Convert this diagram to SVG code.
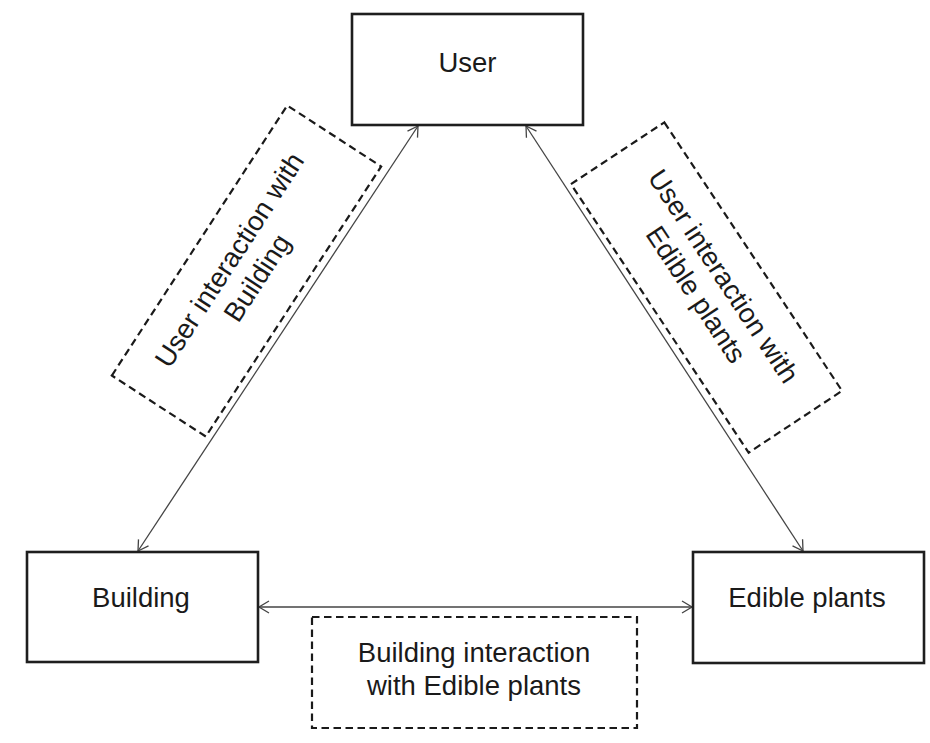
<svg xmlns="http://www.w3.org/2000/svg" width="930" height="743" viewBox="0 0 930 743">
  <style>
    .node { fill: #ffffff; stroke: #1e1e1e; stroke-width: 2.6; }
    .note { fill: none; stroke: #1a1a1a; stroke-width: 2.2; stroke-dasharray: 7.5 4.5; }
    .label { font-family: "Liberation Sans", Arial, sans-serif; font-size: 27.5px; fill: #1a1a1a; text-anchor: middle; }
    .link { stroke: #444444; stroke-width: 1.3; fill: none; marker-start: url(#arrow); marker-end: url(#arrow); }
  </style>
  <defs>
    <marker id="arrow" markerUnits="userSpaceOnUse" markerWidth="14" markerHeight="16" refX="12" refY="8" orient="auto-start-reverse">
      <path d="M2,2 L12,8 L2,14" fill="none" stroke="#444444" stroke-width="1.3"/>
    </marker>
  </defs>

  <rect width="930" height="743" fill="#ffffff"/>

  <!-- connectors -->
  <g id="connectors">
    <line class="link" x1="418" y1="126" x2="138" y2="551"/>
    <line class="link" x1="526" y1="126" x2="803" y2="551"/>
    <line class="link" x1="259" y1="607" x2="692" y2="607"/>
  </g>

  <!-- main nodes -->
  <g id="user">
    <rect class="node" x="352" y="14" width="231" height="111"/>
    <text class="label" x="467.5" y="72">User</text>
  </g>
  <g id="building">
    <rect class="node" x="27" y="552" width="231" height="110"/>
    <text class="label" x="141" y="607">Building</text>
  </g>
  <g id="edible-plants">
    <rect class="node" x="693" y="552" width="231" height="111"/>
    <text class="label" x="807" y="607">Edible plants</text>
  </g>

  <!-- dashed interaction notes -->
  <g id="note-user-building" transform="translate(246.5,271) rotate(-57)">
    <rect class="note" x="-161" y="-56" width="322" height="112"/>
    <text class="label" x="0" y="-11">User interaction with</text>
    <text class="label" x="0" y="22">Building</text>
  </g>
  <g id="note-user-plants" transform="translate(706.5,287.5) rotate(56.5)">
    <rect class="note" x="-161" y="-56" width="322" height="112"/>
    <text class="label" x="0" y="-11">User interaction with</text>
    <text class="label" x="0" y="22">Edible plants</text>
  </g>
  <g id="note-building-plants">
    <rect class="note" x="312" y="617" width="325" height="111"/>
    <text class="label" x="474" y="662">Building interaction</text>
    <text class="label" x="474" y="695">with Edible plants</text>
  </g>
</svg>
